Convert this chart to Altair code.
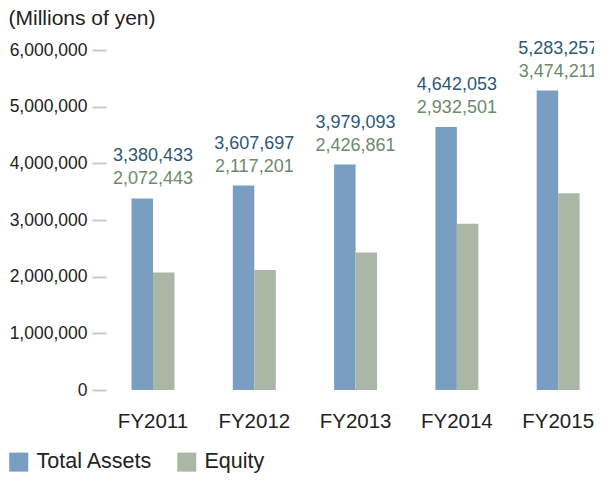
import altair as alt
import pandas as pd

years = ["FY2011", "FY2012", "FY2013", "FY2014", "FY2015"]
total_assets = [3380433, 3607697, 3979093, 4642053, 5283257]
equity = [2072443, 2117201, 2426861, 2932501, 3474211]
series_names = ["Total Assets", "Equity"]
bar_colors = ["#7a9ec1", "#abb7a6"]
label_colors = ["#2d5877", "#6d8a6c"]
y_ticks = [0, 1000000, 2000000, 3000000, 4000000, 5000000, 6000000]

FONT = "Liberation Sans"

long_rows = []
for y, a, e in zip(years, total_assets, equity):
    long_rows.append({"year": y, "series": series_names[0], "value": a})
    long_rows.append({"year": y, "series": series_names[1], "value": e})
long_df = pd.DataFrame(long_rows)

wide_df = pd.DataFrame({"year": years, "assets": total_assets, "equity": equity})

x_enc = alt.X(
    "year:N",
    sort=years,
    scale=alt.Scale(paddingInner=0.576, paddingOuter=0.197, align=0.64),
    axis=alt.Axis(
        title=None, labelAngle=0, ticks=False, tickSize=0, domain=False,
        labelFontSize=20.5, labelPadding=21, labelColor="#222222", labelFont=FONT,
    ),
)

y_scale = alt.Scale(domain=[0, 6000000], nice=False)

y_axis = alt.Axis(
    values=y_ticks, format=",d", grid=False, domain=False,
    tickColor="#c8c8c8", tickWidth=2, tickSize=14, labelPadding=5,
    labelFontSize=17.5, labelColor="#222222", labelFont=FONT,
    title="(Millions of yen)", titleAngle=0, titleAlign="left",
    titleBaseline="middle", titleX=-98, titleY=-32,
    titleFontSize=21, titleFontWeight="normal", titleColor="#222222",
    titleFont=FONT,
)

bars = alt.Chart(long_df).mark_bar().encode(
    x=x_enc,
    xOffset=alt.XOffset("series:N", sort=series_names,
                        scale=alt.Scale(paddingInner=0, paddingOuter=0)),
    y=alt.Y("value:Q", scale=y_scale, axis=y_axis),
    color=alt.Color(
        "series:N",
        sort=series_names,
        scale=alt.Scale(domain=series_names, range=bar_colors),
        legend=alt.Legend(
            title=None, orient="none", legendX=-98, legendY=401,
            direction="horizontal", symbolType="square", symbolSize=361,
            symbolStrokeWidth=0, labelFontSize=21.5, labelFont=FONT,
            labelColor="#222222", columnPadding=23, labelOffset=7,
        ),
    ),
)

assets_text = alt.Chart(wide_df).mark_text(
    fontSize=18, font=FONT, color=label_colors[0], baseline="alphabetic", dy=-37
).encode(
    x=alt.X("year:N", sort=years),
    y=alt.Y("assets:Q", scale=y_scale, axis=y_axis),
    text=alt.Text("assets:Q", format=",d"),
)

equity_text = alt.Chart(wide_df).mark_text(
    fontSize=18, font=FONT, color=label_colors[1], baseline="alphabetic", dy=-14
).encode(
    x=alt.X("year:N", sort=years),
    y=alt.Y("assets:Q", scale=y_scale, axis=y_axis),
    text=alt.Text("equity:Q", format=",d"),
)

chart = alt.layer(bars, assets_text, equity_text).properties(
    width=488,
    height=340,
    autosize=alt.AutoSizeParams(type="none"),
    padding={"left": 98, "top": 42, "right": 0, "bottom": 83},
).configure_view(stroke=None).configure_axis(
    domain=False, grid=False
)

chart.save("out.html", embed_options={"renderer": "svg", "actions": False})
